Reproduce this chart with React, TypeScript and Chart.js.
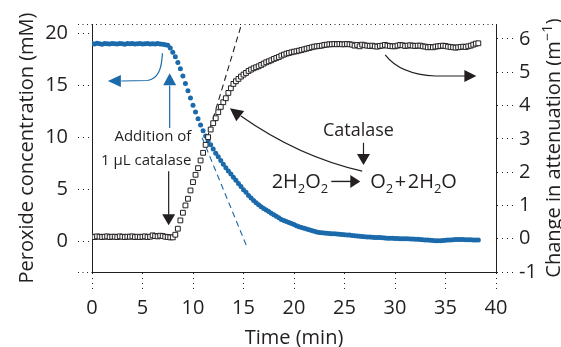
import React, { useEffect, useRef } from "react";
import { Chart, registerables } from "chart.js";

Chart.register(...registerables);

// ---------- data ----------
const timeMin = [
  0, 0.25, 0.5, 0.75, 1, 1.25, 1.5, 1.75, 2, 2.25,
  2.5, 2.75, 3, 3.25, 3.5, 3.75, 4, 4.25, 4.5, 4.75,
  5, 5.25, 5.5, 5.75, 6, 6.25, 6.5, 6.75, 7, 7.25,
  7.5, 7.75, 8, 8.25, 8.5, 8.75, 9, 9.25, 9.5, 9.75,
  10, 10.25, 10.5, 10.75, 11, 11.25, 11.5, 11.75, 12, 12.25,
  12.5, 12.75, 13, 13.25, 13.5, 13.75, 14, 14.25, 14.5, 14.75,
  15, 15.25, 15.5, 15.75, 16, 16.25, 16.5, 16.75, 17, 17.25,
  17.5, 17.75, 18, 18.25, 18.5, 18.75, 19, 19.25, 19.5, 19.75,
  20, 20.25, 20.5, 20.75, 21, 21.25, 21.5, 21.75, 22, 22.25,
  22.5, 22.75, 23, 23.25, 23.5, 23.75, 24, 24.25, 24.5, 24.75,
  25, 25.25, 25.5, 25.75, 26, 26.25, 26.5, 26.75, 27, 27.25,
  27.5, 27.75, 28, 28.25, 28.5, 28.75, 29, 29.25, 29.5, 29.75,
  30, 30.25, 30.5, 30.75, 31, 31.25, 31.5, 31.75, 32, 32.25,
  32.5, 32.75, 33, 33.25, 33.5, 33.75, 34, 34.25, 34.5, 34.75,
  35, 35.25, 35.5, 35.75, 36, 36.25, 36.5, 36.75, 37, 37.25,
  37.5, 37.75, 38, 38.25,
];

// Peroxide concentration (mM), left axis
const peroxideMM = [
  19.02, 18.98, 19.05, 19.0, 18.96, 19.03, 19.0, 18.97, 19.04, 19.0,
  18.98, 19.03, 19.0, 18.95, 19.02, 19.0, 19.04, 18.97, 19.0, 19.02,
  18.98, 19.0, 19.03, 18.97, 19.01, 18.99, 19.02, 18.98, 18.96, 18.92,
  18.85, 18.6, 18.2, 17.75, 17.2, 16.6, 15.9, 15.2, 14.5, 13.8,
  13.1, 12.45, 11.8, 11.2, 10.65, 10.15, 9.7, 9.3, 8.9, 8.5,
  8.15, 7.8, 7.45, 7.1, 6.8, 6.5, 6.2, 5.9, 5.6, 5.3,
  5.0, 4.75, 4.45, 4.2, 3.95, 3.75, 3.55, 3.35, 3.2, 3.05,
  2.9, 2.75, 2.6, 2.45, 2.3, 2.15, 2.05, 1.95, 1.85, 1.75,
  1.65, 1.55, 1.45, 1.38, 1.3, 1.22, 1.15, 1.08, 1.0, 0.95,
  0.9, 0.87, 0.85, 0.83, 0.8, 0.78, 0.77, 0.75, 0.72, 0.7,
  0.68, 0.66, 0.64, 0.6, 0.57, 0.55, 0.52, 0.5, 0.48, 0.46,
  0.45, 0.44, 0.42, 0.41, 0.4, 0.38, 0.36, 0.35, 0.34, 0.33,
  0.32, 0.31, 0.3, 0.3, 0.29, 0.28, 0.27, 0.26, 0.25, 0.24,
  0.22, 0.2, 0.18, 0.16, 0.14, 0.12, 0.1, 0.09, 0.1, 0.12,
  0.14, 0.16, 0.18, 0.2, 0.21, 0.22, 0.22, 0.21, 0.2, 0.2,
  0.19, 0.18, 0.17, 0.16,
];

// Change in attenuation (m^-1), right axis
const attenuation = [
  0.06, 0.05, 0.07, 0.06, 0.05, 0.06, 0.07, 0.05, 0.06, 0.06,
  0.05, 0.07, 0.06, 0.05, 0.06, 0.06, 0.07, 0.05, 0.06, 0.05,
  0.06, 0.07, 0.05, 0.06, 0.1, 0.08, 0.07, 0.09, 0.08, 0.06,
  0.05, 0.04, 0.04, 0.12, 0.3, 0.55, 0.78, 1.0, 1.2, 1.45,
  1.7, 1.92, 2.12, 2.35, 2.58, 2.82, 3.05, 3.28, 3.47, 3.62,
  3.8, 3.96, 4.1, 4.22, 4.38, 4.52, 4.65, 4.73, 4.8, 4.87,
  4.93, 4.98, 5.04, 5.08, 5.12, 5.15, 5.18, 5.22, 5.26, 5.3,
  5.33, 5.36, 5.4, 5.43, 5.46, 5.5, 5.53, 5.56, 5.58, 5.6,
  5.62, 5.63, 5.65, 5.67, 5.69, 5.71, 5.73, 5.75, 5.77, 5.78,
  5.79, 5.8, 5.82, 5.83, 5.84, 5.84, 5.85, 5.84, 5.85, 5.84,
  5.84, 5.85, 5.84, 5.83, 5.8, 5.82, 5.78, 5.83, 5.81, 5.8,
  5.79, 5.8, 5.78, 5.77, 5.79, 5.8, 5.82, 5.8, 5.79, 5.78,
  5.78, 5.8, 5.82, 5.81, 5.79, 5.8, 5.81, 5.8, 5.79, 5.8,
  5.8, 5.78, 5.77, 5.75, 5.76, 5.75, 5.77, 5.78, 5.79, 5.8,
  5.79, 5.77, 5.76, 5.75, 5.74, 5.75, 5.76, 5.77, 5.76, 5.78,
  5.8, 5.83, 5.86, 5.87,
];

// Tangent lines (dashed)
const riseTangentT = [11.4, 14.81];
const riseTangentV = [3.02, 6.45];
const decayTangentT = [10.9, 15.41];
const decayTangentC = [9.99, -0.65];

const xTicks = [0, 5, 10, 15, 20, 25, 30, 35, 40];
const leftTicks = [0, 5, 10, 15, 20];
const rightTicks = [-1, 0, 1, 2, 3, 4, 5, 6];

// ---------- style ----------
const BLUE = "#1b6aab";
const INK = "#231f20";
const FONT = '"Open Sans", "Noto Sans", sans-serif';
const DOT: [number, number] = [1, 3.5];

function head(ctx: CanvasRenderingContext2D, tx: number, ty: number, fx: number, fy: number, len: number, hw: number, color: string) {
  const a = Math.atan2(ty - fy, tx - fx);
  const bx = tx - len * Math.cos(a);
  const by = ty - len * Math.sin(a);
  ctx.beginPath();
  ctx.moveTo(tx, ty);
  ctx.lineTo(bx + hw * Math.sin(a), by - hw * Math.cos(a));
  ctx.lineTo(bx - hw * Math.sin(a), by + hw * Math.cos(a));
  ctx.closePath();
  ctx.fillStyle = color;
  ctx.fill();
}

const annotations = {
  id: "annotations",
  afterDatasetsDraw(chart: any) {
    const ctx: CanvasRenderingContext2D = chart.ctx;
    const xs = chart.scales.x;
    const ys = chart.scales.y;
    const X = (t: number) => xs.getPixelForValue(t);
    const Y = (c: number) => ys.getPixelForValue(c);
    const area = chart.chartArea;
    ctx.save();

    // dotted frame top and bottom extension
    ctx.strokeStyle = INK;
    ctx.lineWidth = 1;
    ctx.setLineDash(DOT);
    ctx.beginPath();
    ctx.moveTo(area.left - 14, area.top + 0.5);
    ctx.lineTo(area.right, area.top + 0.5);
    ctx.moveTo(area.left - 14, area.bottom + 0.5);
    ctx.lineTo(area.left, area.bottom + 0.5);
    ctx.stroke();
    ctx.setLineDash([]);

    // blue curved arrow (to left axis)
    ctx.strokeStyle = BLUE;
    ctx.lineWidth = 1.2;
    ctx.beginPath();
    ctx.moveTo(X(6.97), Y(18.1));
    ctx.bezierCurveTo(X(6.9), Y(16.49), X(6.5), Y(15.63), X(5.51), Y(15.48));
    ctx.lineTo(X(2.9), Y(15.43));
    ctx.stroke();
    head(ctx, X(1.57), Y(15.43), X(2.9), Y(15.43), 13, 6, BLUE);

    // blue vertical arrow (addition)
    ctx.beginPath();
    ctx.moveTo(X(7.69), Y(10.91));
    ctx.lineTo(X(7.69), Y(15.0));
    ctx.stroke();
    head(ctx, X(7.69), Y(16.17), X(7.69), Y(15.0), 12, 6.5, BLUE);

    // Addition text
    ctx.fillStyle = INK;
    ctx.font = `15px ${FONT}`;
    ctx.textAlign = "center";
    ctx.textBaseline = "middle";
    ctx.fillText("Addition of", X(6.03), Y(10.08));
    ctx.fillText("1 \u03bcL catalase", X(5.37), Y(7.74));

    // black down arrow to attenuation start
    ctx.strokeStyle = INK;
    ctx.lineWidth = 1.2;
    ctx.beginPath();
    ctx.moveTo(X(7.59), Y(6.78));
    ctx.lineTo(X(7.59), Y(2.6));
    ctx.stroke();
    head(ctx, X(7.59), Y(1.59), X(7.59), Y(6.78), 11, 6.5, INK);

    // Catalase label + arrow
    ctx.font = `18px ${FONT}`;
    ctx.textBaseline = "alphabetic";
    ctx.fillText("Catalase", X(26.38), Y(10.14));
    ctx.beginPath();
    ctx.moveTo(X(26.88), Y(9.5));
    ctx.lineTo(X(26.88), Y(8.3));
    ctx.stroke();
    head(ctx, X(26.88), Y(7.36), X(26.88), Y(9.5), 11, 6.5, INK);

    // Equation
    const base = Y(5.12);
    let x = X(17.79);
    ctx.textAlign = "left";
    const part = (s: string, sub = false, gap = 0) => {
      ctx.font = `${sub ? 13 : 20}px ${FONT}`;
      x += gap;
      ctx.fillText(s, x, sub ? base + 5 : base);
      x += ctx.measureText(s).width + gap;
    };
    part("2H"); part("2", true); part("O"); part("2", true);
    x += 3;
    const ay = base - 7;
    ctx.lineWidth = 1.4;
    ctx.beginPath();
    ctx.moveTo(x, ay);
    ctx.lineTo(x + 20, ay);
    ctx.stroke();
    head(ctx, x + 29, ay, x, ay, 10, 6.5, INK);
    x += 29 + 10;
    part("O"); part("2", true); part("+", false, 1.5); part("2H"); part("2", true); part("O");

    // big curved arrow towards attenuation curve
    ctx.lineWidth = 1.2;
    ctx.beginPath();
    ctx.moveTo(X(26.75), Y(6.78));
    ctx.quadraticCurveTo(X(20.45), Y(8.17), X(14.74), Y(12.07));
    ctx.stroke();
    head(ctx, X(13.65), Y(12.81), X(15.3), Y(11.6), 13, 6.5, INK);

    // upper right arrow (to right axis)
    ctx.beginPath();
    ctx.moveTo(X(29.03), Y(17.93));
    ctx.bezierCurveTo(X(30.02), Y(16.68), X(31.51), Y(16.01), X(33.99), Y(15.91));
    ctx.lineTo(X(36.97), Y(15.91));
    ctx.stroke();
    head(ctx, X(38.06), Y(15.91), X(36.97), Y(15.91), 12, 6, INK);

    // right axis title with superscript
    ctx.save();
    ctx.translate(554, (area.top + area.bottom) / 2);
    ctx.rotate(-Math.PI / 2);
    ctx.fillStyle = INK;
    ctx.textBaseline = "middle";
    ctx.textAlign = "left";
    const mainFont = `20px ${FONT}`;
    const supFont = `14px ${FONT}`;
    const s1 = "Change in attenuation (m";
    const s2 = "\u22121";
    const s3 = ")";
    ctx.font = mainFont;
    const w1 = ctx.measureText(s1).width;
    const w3 = ctx.measureText(s3).width;
    ctx.font = supFont;
    const w2 = ctx.measureText(s2).width;
    let tx = -(w1 + w2 + w3 + 1) / 2;
    ctx.font = mainFont;
    ctx.fillText(s1, tx, 0);
    tx += w1 + 0.5;
    ctx.font = supFont;
    ctx.fillText(s2, tx, -6);
    tx += w2 + 0.5;
    ctx.font = mainFont;
    ctx.fillText(s3, tx, 0);
    ctx.restore();

    ctx.restore();
  },
};

export default function App() {
  const ref = useRef<HTMLCanvasElement | null>(null);

  useEffect(() => {
    if (!ref.current) return;
    const peroxidePts = timeMin.map((t, i) => ({ x: t, y: peroxideMM[i] }));
    const attenPts = timeMin.map((t, i) => ({ x: t, y: attenuation[i] }));
    const risePts = riseTangentT.map((t, i) => ({ x: t, y: riseTangentV[i] }));
    const decayPts = decayTangentT.map((t, i) => ({ x: t, y: decayTangentC[i] }));

    const tickFont = { family: FONT, size: 20 };

    const chart = new Chart(ref.current, {
      type: "scatter",
      data: {
        datasets: [
          {
            label: "Change in attenuation",
            data: attenPts,
            yAxisID: "y1",
            pointStyle: "rect",
            pointRadius: 3.4,
            pointBackgroundColor: "#ffffff",
            pointBorderColor: INK,
            pointBorderWidth: 1,
            order: 1,
          },
          {
            label: "Peroxide concentration",
            data: peroxidePts,
            yAxisID: "y",
            pointStyle: "circle",
            pointRadius: 2.5,
            pointBackgroundColor: BLUE,
            pointBorderWidth: 0,
            order: 2,
          },
          {
            label: "rise tangent",
            data: risePts,
            yAxisID: "y1",
            showLine: true,
            borderColor: INK,
            borderWidth: 1.1,
            borderDash: [6, 4],
            pointRadius: 0,
            order: 3,
          },
          {
            label: "decay tangent",
            data: decayPts,
            yAxisID: "y",
            showLine: true,
            borderColor: BLUE,
            borderWidth: 1.1,
            borderDash: [6, 4],
            pointRadius: 0,
            order: 4,
          },
        ],
      },
      options: {
        responsive: false,
        animation: false,
        devicePixelRatio: 1,
        events: [],
        layout: { padding: { top: 24, left: 0, right: 0, bottom: 0 } },
        plugins: { legend: { display: false }, tooltip: { enabled: false } },
        scales: {
          x: {
            type: "linear",
            min: 0,
            max: 40,
            afterBuildTicks: (s: any) => { s.ticks = xTicks.map((v) => ({ value: v })); },
            afterFit: (s: any) => { s.height = 75; },
            ticks: { font: tickFont, color: INK, padding: 6, maxRotation: 0 },
            grid: { drawOnChartArea: false, drawTicks: true, tickLength: 18, tickBorderDash: [1, 4], tickColor: INK, tickWidth: 1 },
            border: { display: true, color: INK, width: 1, dash: DOT },
            title: { display: true, text: "Time (min)", color: INK, font: { family: FONT, size: 20, lineHeight: 1 }, padding: { top: 0, bottom: -1 } },
          },
          y: {
            type: "linear",
            position: "left",
            min: -2.9,
            max: 20.9,
            afterBuildTicks: (s: any) => { s.ticks = leftTicks.map((v) => ({ value: v })); },
            afterFit: (s: any) => { s.width = 92; },
            ticks: { font: tickFont, color: INK, padding: 10 },
            grid: { drawOnChartArea: false, drawTicks: true, tickLength: 14, tickBorderDash: [1, 4], tickColor: INK, tickWidth: 1 },
            border: { display: true, color: INK, width: 1, dash: DOT },
            title: { display: true, text: "Peroxide concentration (mM)", color: INK, font: { family: FONT, size: 20, lineHeight: 1.2 }, padding: { top: 15, bottom: 0 } },
          },
          y1: {
            type: "linear",
            position: "right",
            min: -1,
            max: 6.45,
            afterBuildTicks: (s: any) => { s.ticks = rightTicks.map((v) => ({ value: v })); },
            afterFit: (s: any) => { s.width = 65; },
            ticks: { font: tickFont, color: INK, padding: 6 },
            grid: { drawOnChartArea: false, drawTicks: true, tickLength: 17, tickBorderDash: [1, 4], tickColor: INK, tickWidth: 1 },
            border: { display: true, color: INK, width: 1, dash: DOT },
          },
        },
      },
      plugins: [annotations],
    } as any);

    return () => chart.destroy();
  }, []);

  return (
    <div style={{ position: "fixed", left: 0, top: 0, width: 561, height: 347, background: "#fff" }}>
      <canvas ref={ref} width={561} height={347} style={{ display: "block" }} />
    </div>
  );
}
